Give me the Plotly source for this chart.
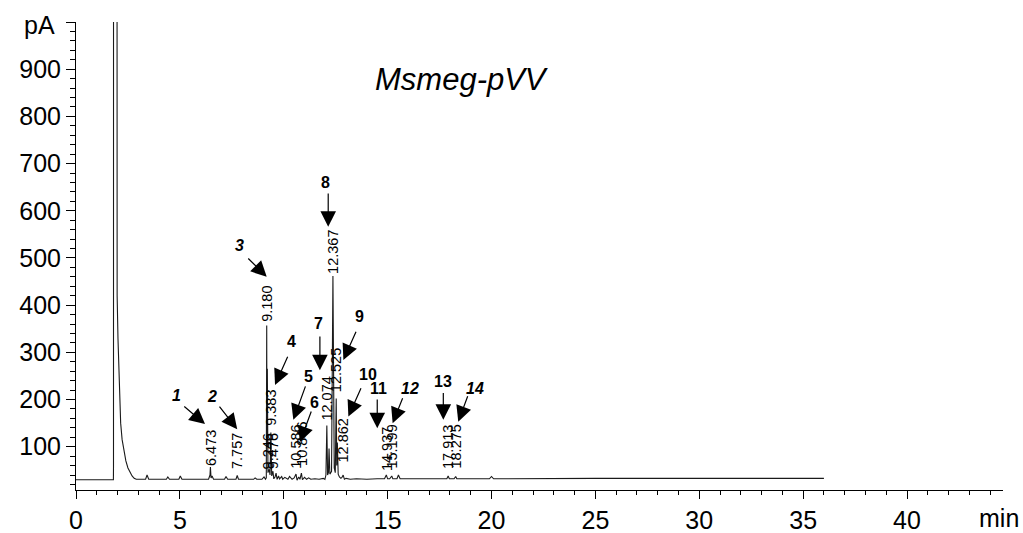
import plotly.graph_objects as go

# ---- chromatogram trace (time in min, signal in pA) ----
times = [0, 1.80, 1.805, 1.81, 1.95, 1.96, 1.98, 2.02, 2.06, 2.10, 2.15, 2.22, 2.30, 2.40, 2.50, 2.60, 2.70, 2.80, 2.90,
         3.35, 3.42, 3.50, 4.35, 4.42, 4.50, 4.95, 5.02, 5.10,
         6.38, 6.45, 6.47, 6.50, 6.55, 6.62, 7.15, 7.22, 7.30, 7.70, 7.76, 7.82, 8.55, 8.62, 8.70,
         8.95, 9.05, 9.12, 9.16, 9.18, 9.19, 9.21, 9.24, 9.30, 9.34, 9.38, 9.42, 9.48, 9.52, 9.58, 9.63, 9.68,
         9.75, 9.80, 9.90, 9.95, 10.05, 10.20, 10.28, 10.40, 10.50, 10.59, 10.64, 10.72, 10.78, 10.85, 10.90,
         11.00, 11.10, 11.20, 11.30, 11.50, 11.70, 11.90, 11.98, 12.03, 12.074, 12.11, 12.15, 12.18, 12.22, 12.30,
         12.367, 12.43, 12.48, 12.525, 12.55, 12.58, 12.62, 12.68, 12.75, 12.80, 12.86, 12.92, 13.00, 13.20, 13.50,
         14.00, 14.50, 14.85, 14.937, 15.00, 15.10, 15.199, 15.25, 15.45, 15.52, 15.60, 16.00, 17.00, 17.85, 17.913,
         17.97, 18.20, 18.275, 18.33, 19.00, 19.90, 20.00, 20.10, 25.00, 30.60, 30.80, 31.00, 33.50, 33.80, 34.10, 36.00]
signal = [30, 30, 58, 5000, 5000, 560, 420, 330, 260, 200, 150, 115, 90, 70, 55, 45, 38, 33, 31,
          31, 40, 31, 31, 36, 31, 31, 38, 31,
          31, 40, 57, 34, 38, 31, 31, 37, 31, 31, 39, 31, 31, 34, 31,
          31, 36, 31, 34, 357, 100, 265, 45, 52, 40, 130, 38, 48, 32, 36, 44, 31,
          38, 32, 37, 31, 35, 31, 37, 31, 34, 42, 29, 36, 31, 44, 30,
          35, 31, 34, 31, 32, 31, 33, 31, 40, 145, 40, 45, 96, 42, 48,
          462, 55, 45, 202, 60, 109, 42, 36, 33, 35, 40, 31, 33, 31, 32,
          31, 32, 32, 40, 32, 32, 38, 32, 32, 40, 32, 32, 32, 32, 38,
          32, 32, 37, 32, 32, 32, 37, 32, 33, 33, 34, 33, 33, 34, 33, 33]

# ---- retention-time labels ----
peak_label_text = ["6.473", "7.757", "9.180", "9.246", "9.383", "9.476", "10.586", "10.846", "12.074",
                   "12.367", "12.525", "12.862", "14.937", "15.199", "17.913", "18.275"]
peak_label_time = [6.473, 7.757, 9.180, 9.246, 9.383, 9.476, 10.586, 10.846, 12.074,
                   12.367, 12.525, 12.862, 14.937, 15.199, 17.913, 18.275]
peak_label_base = [58, 51, 362, 50, 142, 50, 51, 58, 153, 464, 214, 65, 47, 51, 51, 51]

# ---- numbered arrows: text, italic, label(x,y), tail(x,y), tip(x,y) ----
arrow_text = ["1", "2", "3", "4", "5", "6", "7", "8", "9", "10", "11", "12", "13", "14"]
arrow_italic = [True, True, True, False, False, False, False, False, False, False, False, True, False, True]
arrow_label_x = [4.85, 6.53, 7.89, 10.38, 11.18, 11.48, 11.67, 12.03, 13.64, 14.07, 14.55, 16.08, 17.68, 19.21]
arrow_label_y = [209, 206, 527, 322, 248, 193, 361, 659, 377, 252, 224, 224, 238, 224]
arrow_tail_x = [5.14, 6.85, 8.22, 10.22, 11.07, 11.35, 11.74, 12.14, 13.51, 13.75, 14.50, 15.75, 17.68, 18.88]
arrow_tail_y = [188, 188, 502, 294, 231, 178, 337, 640, 347, 227, 203, 206, 217, 210]
arrow_tip_x = [6.21, 7.76, 9.18, 9.58, 10.46, 10.78, 11.74, 12.14, 12.87, 13.11, 14.50, 15.24, 17.68, 18.40]
arrow_tip_y = [148, 137, 460, 231, 157, 110, 262, 566, 284, 164, 139, 150, 157, 153]

y_tick_vals = [100, 200, 300, 400, 500, 600, 700, 800, 900, 1000]
y_tick_text = ["100", "200", "300", "400", "500", "600", "700", "800", "900", ""]
x_tick_vals = [0, 5, 10, 15, 20, 25, 30, 35, 40]

FONT = "Liberation Sans, Arial, sans-serif"
TICK_SIZE = 25

fig = go.Figure()
fig.add_trace(go.Scatter(x=times, y=signal, mode="lines",
                         line=dict(color="#1a1a1a", width=1.1), hoverinfo="skip", showlegend=False))

annotations = []
for txt, t, b in zip(peak_label_text, peak_label_time, peak_label_base):
    annotations.append(dict(x=t, y=b, xref="x", yref="y", text=txt, showarrow=False,
                            textangle=-90, xanchor="center", yanchor="bottom",
                            font=dict(family=FONT, size=14.5, color="black"), borderpad=0))

for i, txt in enumerate(arrow_text):
    annotations.append(dict(x=arrow_tip_x[i], y=arrow_tip_y[i], xref="x", yref="y",
                            ax=arrow_tail_x[i], ay=arrow_tail_y[i], axref="x", ayref="y",
                            text="", showarrow=True, arrowhead=2, arrowsize=2.6, arrowwidth=1.2,
                            arrowcolor="black", standoff=0, startstandoff=0))
    label = "<b><i>%s</i></b>" % txt if arrow_italic[i] else "<b>%s</b>" % txt
    annotations.append(dict(x=arrow_label_x[i], y=arrow_label_y[i], xref="x", yref="y",
                            text=label, showarrow=False, xanchor="center", yanchor="middle",
                            font=dict(family=FONT, size=16, color="black")))

annotations.append(dict(x=18.58, y=879, xref="x", yref="y", text="<i>Msmeg-pVV</i>", showarrow=False,
                        xanchor="center", yanchor="middle", font=dict(family=FONT, size=31, color="black")))
annotations.append(dict(x=44.45, y=0, xref="x", yref="paper", text="min", showarrow=False,
                        xanchor="center", yanchor="top", yshift=-12,
                        font=dict(family=FONT, size=TICK_SIZE, color="black")))
annotations.append(dict(x=0, y=1000, xref="paper", yref="y", text="pA", showarrow=False,
                        xanchor="right", yanchor="middle", xshift=-19, yshift=-3,
                        font=dict(family=FONT, size=TICK_SIZE, color="black")))

fig.update_layout(
    width=1023, height=533,
    margin=dict(l=76, r=20, t=22, b=43, autoexpand=False),
    paper_bgcolor="white", plot_bgcolor="white",
    annotations=annotations,
    xaxis=dict(range=[0, 44.62], tickmode="array", tickvals=x_tick_vals, automargin=False,
               showline=True, linecolor="black", linewidth=1, ticks="outside", ticklen=8,
               tickcolor="black", tickwidth=1, showgrid=False, zeroline=False,
               minor=dict(dtick=1, ticks="outside", ticklen=4, tickcolor="black", showgrid=False),
               tickfont=dict(family=FONT, size=TICK_SIZE, color="black")),
    yaxis=dict(range=[8.3, 1000], tickmode="array", tickvals=y_tick_vals, ticktext=y_tick_text,
               automargin=False,
               showline=True, linecolor="black", linewidth=1, ticks="outside", ticklen=9,
               tickcolor="black", tickwidth=1, showgrid=False, zeroline=False,
               minor=dict(dtick=20, tick0=0, ticks="outside", ticklen=5, tickcolor="black", showgrid=False),
               tickfont=dict(family=FONT, size=TICK_SIZE, color="black")),
)

fig.write_html("out.html")
